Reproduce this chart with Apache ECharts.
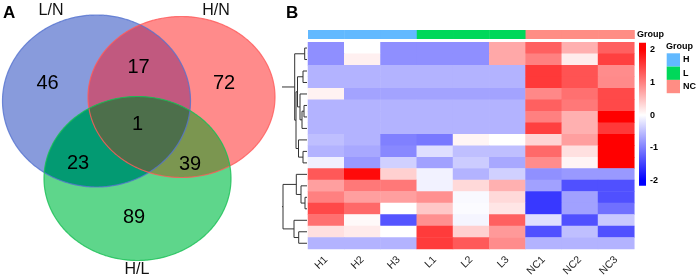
<!DOCTYPE html>
<html><head><meta charset="utf-8">
<script src="https://cdn.jsdelivr.net/npm/echarts@6/dist/echarts.min.js"></script>
<style>html,body{margin:0;padding:0;background:#fff}#c{width:699px;height:280px}</style>
</head><body><div id="c"></div>
<script>
// ---------------- DATA ----------------
const vennSetLabels = ['L/N', 'H/N', 'H/L'];
// regions: L/N only, H/N only, H/L only, L/N∩H/N, L/N∩H/L, H/N∩H/L, all three
const vennRegionCounts = [46, 72, 89, 17, 23, 39, 1];

const sampleNames = ['H1', 'H2', 'H3', 'L1', 'L2', 'L3', 'NC1', 'NC2', 'NC3'];
const sampleGroups = [0, 0, 0, 1, 1, 1, 2, 2, 2];
const groupNames = ['H', 'L', 'NC'];
const rowIds = ['r1','r2','r3','r4','r5','r6','r7','r8','r9','r10','r11','r12','r13','r14','r15','r16','r17','r18'];
const zScores = [
  [-0.88, 0.00, -0.88, -0.88, -0.88, 0.68, 1.25, 0.62, 1.25],
  [-0.88, 0.12, -0.88, -0.88, -0.88, 0.68, 1.00, 0.15, 1.50],
  [-0.60, -0.60, -0.60, -0.60, -0.60, -0.60, 1.55, 1.35, 0.90],
  [-0.60, -0.60, -0.60, -0.60, -0.60, -0.60, 1.55, 1.35, 0.92],
  [0.10, -0.72, -0.72, -0.72, -0.72, -0.72, 0.93, 1.12, 1.43],
  [-0.60, -0.60, -0.60, -0.60, -0.60, -0.60, 1.25, 1.06, 1.43],
  [-0.60, -0.60, -0.60, -0.60, -0.60, -0.60, 1.00, 0.62, 2.00],
  [-0.60, -0.60, -0.60, -0.60, -0.60, -0.60, 1.50, 0.62, 1.56],
  [-0.50, -0.60, -1.00, -1.06, 0.08, 0.00, 0.34, 0.75, 2.00],
  [-0.60, -0.68, -0.93, -0.25, -0.50, -0.50, 1.18, 0.24, 2.00],
  [-0.12, -0.80, -0.37, -0.74, -0.40, -0.68, 0.90, 0.08, 2.00],
  [1.31, 1.92, 0.37, -0.10, -0.60, -0.37, -0.87, -0.80, -0.80],
  [0.75, 1.06, 1.06, -0.10, 0.30, 0.62, -0.74, -1.37, -1.37],
  [1.00, 0.75, 0.75, 0.87, -0.05, 0.30, -1.56, -0.74, -1.37],
  [1.43, 1.18, 0.00, 0.43, -0.03, 0.20, -1.56, -0.74, -1.12],
  [1.12, 0.05, -1.33, 0.87, -0.08, 1.25, -0.25, -1.37, -0.43],
  [0.24, 0.16, 0.00, 1.54, 0.37, 0.80, -1.37, -0.50, -1.37],
  [-0.60, -0.60, -0.60, 1.54, 1.30, 0.90, -0.60, -0.60, -0.60]
];
const colorbarTicks = [2, 1, 0, -1, -2];
// hclust-like merges: negative = leaf row (1-based), positive = earlier merge; third = height
const dendroMerge = [
  [-1, -2, 2.3], [-3, -4, 4], [-6, -7, 3], [3, -8, 5], [-5, 4, 7], [2, 5, 9.5],
  [-10, -11, 4], [-9, 7, 8.5], [6, 8, 11], [1, 9, 12.3],
  [-14, -15, 2], [-13, 11, 6], [-12, 12, 10.7], [-17, -18, 8.3], [-16, 14, 13],
  [13, 15, 24], [10, 16, 40]
];

// ---------------- LAYOUT / STYLE ----------------
const FONT = '"Liberation Sans", Arial, Helvetica, sans-serif';
const VENN = {
  ellipses: [
    {cx: 96.5, cy: 101, rx: 94, ry: 86},
    {cx: 181.5, cy: 97, rx: 93.5, ry: 80.5},
    {cx: 137.5, cy: 178.5, rx: 93.5, ry: 82}
  ],
  fills: ['#889bdc', '#ff8b8b', '#5ed68b'],
  strokes: ['#5573d0', '#ff5a5a', '#19bf55'],
  overlap: {BR: '#c1597f', BG: '#039a72', RG: '#7b9650', BRG: '#4d6f4b'},
  setLabelPos: [[51, 11], [216, 11], [137, 270]],
  countPos: [[47.5, 83.5], [224, 83], [134, 217.5], [138.5, 67], [78, 163], [190, 164], [137.5, 124]]
};
const GROUP_COLORS = ['#62b9ff', '#00d85a', '#ff8d84'];
const HM = {left: 308, top: 42.3, width: 326.3, height: 206.7};
const CB = {x: 639, y: 42.7, w: 7, h: 143, vmin: -2.16, vmax: 2.21};

// ---------------- helpers ----------------
function ellipsePts(e, n) {
  const pts = [];
  for (let i = 0; i < n; i++) {
    const t = 2 * Math.PI * i / n;
    pts.push([e.cx + e.rx * Math.cos(t), e.cy + e.ry * Math.sin(t)]);
  }
  return pts;
}
function side(a, b, p) { return (b[0] - a[0]) * (p[1] - a[1]) - (b[1] - a[1]) * (p[0] - a[0]); }
function clipPoly(subject, clip) {
  let out = subject;
  for (let i = 0; i < clip.length; i++) {
    const a = clip[i], b = clip[(i + 1) % clip.length];
    const inp = out; out = [];
    if (!inp.length) break;
    for (let j = 0; j < inp.length; j++) {
      const p = inp[j], q = inp[(j + 1) % inp.length];
      const sp = side(a, b, p), sq = side(a, b, q);
      if (sp >= 0) {
        out.push(p);
        if (sq < 0) { const t = sp / (sp - sq); out.push([p[0] + t * (q[0] - p[0]), p[1] + t * (q[1] - p[1])]); }
      } else if (sq >= 0) {
        const t = sp / (sp - sq); out.push([p[0] + t * (q[0] - p[0]), p[1] + t * (q[1] - p[1])]);
      }
    }
  }
  return out;
}
function buildDendro(merge) {
  const nodes = [], segs = [];
  const get = id => id < 0 ? {h: 0, y: -id - 1} : nodes[id - 1];
  merge.forEach(([a, b, h]) => {
    const A = get(a), B = get(b);
    segs.push([A.h, A.y, h, A.y]);
    segs.push([B.h, B.y, h, B.y]);
    segs.push([h, A.y, h, B.y]);
    nodes.push({h: h, y: (A.y + B.y) / 2});
  });
  return segs;
}

// ---------------- Venn graphics ----------------
const graphics = [];
let z = 1;
const polys = VENN.ellipses.map(e => ellipsePts(e, 360));
polys.forEach((p, i) => graphics.push({type: 'polygon', z: z++, shape: {points: p}, style: {fill: VENN.fills[i]}, silent: true}));
const BR = clipPoly(polys[0], polys[1]);
const BG = clipPoly(polys[0], polys[2]);
const RG = clipPoly(polys[1], polys[2]);
const BRG = clipPoly(BR, polys[2]);
[[BR, VENN.overlap.BR], [BG, VENN.overlap.BG], [RG, VENN.overlap.RG], [BRG, VENN.overlap.BRG]].forEach(([p, c]) => {
  graphics.push({type: 'polygon', z: z++, shape: {points: p}, style: {fill: c}, silent: true});
});
polys.forEach((p, i) => graphics.push({type: 'polygon', z: z++, shape: {points: p}, style: {fill: null, stroke: VENN.strokes[i], lineWidth: 1.2, opacity: 0.8}, silent: true}));
vennRegionCounts.forEach((v, i) => graphics.push({
  type: 'text', z: z++, x: VENN.countPos[i][0], y: VENN.countPos[i][1],
  style: {text: String(v), font: '20px ' + FONT, fill: '#000', align: 'center', verticalAlign: 'middle'}
}));
vennSetLabels.forEach((t, i) => graphics.push({
  type: 'text', z: z++, x: VENN.setLabelPos[i][0], y: VENN.setLabelPos[i][1],
  style: {text: t, font: '16px ' + FONT, fill: '#111', align: 'center', verticalAlign: 'middle'}
}));
graphics.push({type: 'text', z: z++, x: 3, y: 13, style: {text: 'A', font: 'bold 17px ' + FONT, fill: '#000', verticalAlign: 'middle'}});
graphics.push({type: 'text', z: z++, x: 286, y: 13.5, style: {text: 'B', font: 'bold 17px ' + FONT, fill: '#000', verticalAlign: 'middle'}});

// annotation label
graphics.push({type: 'text', z: z++, x: 637, y: 35, style: {text: 'Group', font: 'bold 9px ' + FONT, fill: '#000', verticalAlign: 'middle'}});

// colorbar
const cbY = v => CB.y + (CB.vmax - v) / (CB.vmax - CB.vmin) * CB.h;
const off = v => (cbY(v) - CB.y) / CB.h;
graphics.push({type: 'rect', z: z++, shape: {x: CB.x, y: CB.y, width: CB.w, height: CB.h}, style: {
  fill: {type: 'linear', x: 0, y: 0, x2: 0, y2: 1, colorStops: [
    {offset: 0, color: '#ff0000'}, {offset: off(2), color: '#ff0000'}, {offset: off(0), color: '#ffffff'},
    {offset: off(-2), color: '#0000ff'}, {offset: 1, color: '#0000ff'}]}
}});
colorbarTicks.forEach(t => graphics.push({type: 'text', z: z++, x: 650, y: cbY(t), style: {text: String(t), font: 'bold 9px ' + FONT, fill: '#000', verticalAlign: 'middle'}}));

// group legend
graphics.push({type: 'text', z: z++, x: 666, y: 47, style: {text: 'Group', font: 'bold 9px ' + FONT, fill: '#000', verticalAlign: 'middle'}});
groupNames.forEach((g, i) => {
  graphics.push({type: 'rect', z: z++, shape: {x: 666.7, y: 53.3 + i * 13.3, width: 13.3, height: 13.3}, style: {fill: GROUP_COLORS[i]}});
  graphics.push({type: 'text', z: z++, x: 683, y: 60 + i * 13.3, style: {text: g, font: 'bold 9px ' + FONT, fill: '#000', verticalAlign: 'middle'}});
});

// ---------------- series data ----------------
const hmData = [];
zScores.forEach((row, r) => row.forEach((v, c) => hmData.push([c, r, v])));
const annData = sampleGroups.map((g, c) => [c, g]);
const dendroSegs = buildDendro(dendroMerge);

const chart = echarts.init(document.getElementById('c'), null, {renderer: 'canvas'});
chart.setOption({
  animation: false,
  backgroundColor: '#fff',
  textStyle: {fontFamily: FONT},
  grid: [
    {left: HM.left, top: HM.top, width: HM.width, height: HM.height, outerBoundsMode: 'none'},
    {left: HM.left, top: 30, width: HM.width, height: 9, outerBoundsMode: 'none'},
    {left: 282, top: HM.top, width: 25, height: HM.height, outerBoundsMode: 'none'}
  ],
  xAxis: [
    {gridIndex: 0, type: 'category', data: sampleNames, axisLine: {show: false}, axisTick: {show: false}, splitLine: {show: false},
     axisLabel: {rotate: 45, fontSize: 10.5, color: '#222', margin: 9, interval: 0}},
    {gridIndex: 1, type: 'category', data: sampleNames, show: false},
    {gridIndex: 2, type: 'value', min: 0, max: 25, inverse: true, show: false}
  ],
  yAxis: [
    {gridIndex: 0, type: 'category', data: rowIds, inverse: true, show: false},
    {gridIndex: 1, type: 'category', data: ['Group'], show: false},
    {gridIndex: 2, type: 'value', min: -0.5, max: 17.5, inverse: true, show: false}
  ],
  visualMap: [{type: 'continuous', show: false, seriesIndex: 0, min: -2, max: 2, inRange: {color: ['#0000ff', '#ffffff', '#ff0000']}}],
  series: [
    {type: 'heatmap', xAxisIndex: 0, yAxisIndex: 0, data: hmData, itemStyle: {borderWidth: 0}, emphasis: {disabled: true}, progressive: 0},
    {type: 'custom', xAxisIndex: 1, yAxisIndex: 1, data: annData, silent: true,
     renderItem: function (params, api) {
       const p = api.coord([api.value(0), 0]);
       const s = api.size([1, 1]);
       return {type: 'rect', shape: {x: p[0] - s[0] / 2, y: p[1] - s[1] / 2, width: s[0] + 0.5, height: s[1]}, style: {fill: GROUP_COLORS[api.value(1)]}};
     }},
    {type: 'custom', xAxisIndex: 2, yAxisIndex: 2, data: dendroSegs, clip: true, silent: true,
     encode: {x: [0, 2], y: [1, 3]},
     renderItem: function (params, api) {
       const p1 = api.coord([api.value(0), api.value(1)]);
       const p2 = api.coord([api.value(2), api.value(3)]);
       return {type: 'line', shape: {x1: p1[0], y1: p1[1], x2: p2[0], y2: p2[1]}, style: {stroke: '#333', lineWidth: 1}};
     }}
  ],
  graphic: graphics
});
</script>
</body></html>
